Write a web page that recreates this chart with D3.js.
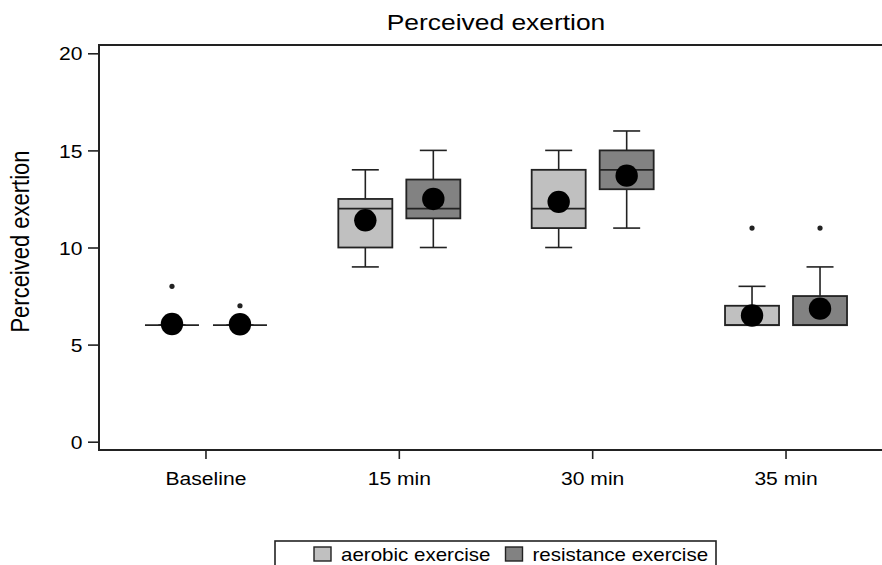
<!DOCTYPE html>
<html>
<head>
<meta charset="utf-8">
<script src="https://cdn.jsdelivr.net/npm/d3@7/dist/d3.min.js"></script>
<style>
  html, body { margin: 0; padding: 0; background: #fff; }
  svg { display: block; }
  text { font-family: "Liberation Sans", Arial, sans-serif; fill: #000; }
</style>
</head>
<body>
<script>
// ---- data ----
const categories = ["Baseline", "15 min", "30 min", "35 min"];
const groups = ["aerobic exercise", "resistance exercise"];
const groupColors = ["#c0c0c0", "#828282"];
const yTicks = [0, 5, 10, 15, 20];

const aerobicLow      = [6, 9, 10, 6];
const aerobicQ1       = [6, 10, 11, 6];
const aerobicMedian   = [6, 12, 12, 6];
const aerobicQ3       = [6, 12.5, 14, 7];
const aerobicHigh     = [6, 14, 15, 8];
const aerobicMean     = [6.06, 11.4, 12.35, 6.5];
const aerobicOutliers = [[8], [], [], [11]];

const resistanceLow      = [6, 10, 11, 6];
const resistanceQ1       = [6, 11.5, 13, 6];
const resistanceMedian   = [6, 12, 14, 6];
const resistanceQ3       = [6, 13.5, 15, 7.5];
const resistanceHigh     = [6, 15, 16, 9];
const resistanceMean     = [6.05, 12.5, 13.7, 6.85];
const resistanceOutliers = [[7], [], [], [11]];

// ---- build records ----
const series = [
  {low: aerobicLow, q1: aerobicQ1, med: aerobicMedian, q3: aerobicQ3, high: aerobicHigh, mean: aerobicMean, out: aerobicOutliers},
  {low: resistanceLow, q1: resistanceQ1, med: resistanceMedian, q3: resistanceQ3, high: resistanceHigh, mean: resistanceMean, out: resistanceOutliers}
];
const records = [];
categories.forEach((c, i) => {
  groups.forEach((g, j) => {
    const s = series[j];
    records.push({cat: c, group: g, gi: j, low: s.low[i], q1: s.q1[i], med: s.med[i], q3: s.q3[i], high: s.high[i], mean: s.mean[i], out: s.out[i]});
  });
});

const W = 882, H = 565;
const svg = d3.select("body").append("svg").attr("width", W).attr("height", H);

const plotLeft = 99, plotRight = 884, plotTop = 45, plotBottom = 450;
const SX = 1.14; // horizontal stretch of text in reference

const x = d3.scaleBand().domain(categories).range([109.3, 882.7]).padding(0);
const xs = d3.scaleBand().domain(groups).range([-61, 61]).paddingInner(14 / 68).paddingOuter(0);
const y = d3.scaleLinear().domain([0, 20]).range([441.7, 53.3]);

// frame
svg.append("path")
  .attr("d", `M${plotRight},${plotTop}H${plotLeft}V${plotBottom}H${plotRight}`)
  .attr("fill", "none").attr("stroke", "#222").attr("stroke-width", 2);

// y axis
const yAxis = d3.axisLeft(y).tickValues(yTicks).tickSize(11).tickPadding(5).tickFormat(d3.format("d"));
const gy = svg.append("g").attr("transform", `translate(${plotLeft},0)`).call(yAxis);
gy.select(".domain").remove();
gy.selectAll(".tick line").attr("stroke", "#222").attr("stroke-width", 1.6);
gy.selectAll(".tick text")
  .attr("x", 0).attr("dy", "0.36em")
  .attr("transform", `translate(-16.5,0) scale(${SX},1)`)
  .attr("font-size", 18.5).attr("font-family", "Liberation Sans, Arial, sans-serif").attr("fill", "#000");

// x axis
const xAxis = d3.axisBottom(x).tickSize(9).tickPadding(10);
const gx = svg.append("g").attr("transform", `translate(0,${plotBottom})`).call(xAxis);
gx.select(".domain").remove();
gx.selectAll(".tick line").attr("stroke", "#222").attr("stroke-width", 1.6);
gx.selectAll(".tick text")
  .attr("y", 0).attr("dy", 0)
  .attr("transform", `translate(0,35) scale(${SX},1)`)
  .attr("font-size", 18.5).attr("font-family", "Liberation Sans, Arial, sans-serif").attr("fill", "#000");

// boxes
const cx = d => x(d.cat) + x.bandwidth() / 2 + xs(d.group) + xs.bandwidth() / 2;
const bw = xs.bandwidth();
const capW = bw / 2;
const stroke = "#222";

const gBox = svg.append("g");
records.forEach(d => {
  const c = cx(d);
  const g = gBox.append("g");
  g.append("line").attr("x1", c).attr("x2", c).attr("y1", y(d.q3)).attr("y2", y(d.high)).attr("stroke", stroke).attr("stroke-width", 1.6);
  g.append("line").attr("x1", c).attr("x2", c).attr("y1", y(d.q1)).attr("y2", y(d.low)).attr("stroke", stroke).attr("stroke-width", 1.6);
  g.append("line").attr("x1", c - capW / 2).attr("x2", c + capW / 2).attr("y1", y(d.high)).attr("y2", y(d.high)).attr("stroke", stroke).attr("stroke-width", 1.6);
  g.append("line").attr("x1", c - capW / 2).attr("x2", c + capW / 2).attr("y1", y(d.low)).attr("y2", y(d.low)).attr("stroke", stroke).attr("stroke-width", 1.6);
  g.append("rect").attr("x", c - bw / 2).attr("width", bw)
    .attr("y", y(d.q3)).attr("height", Math.max(0, y(d.q1) - y(d.q3)))
    .attr("fill", groupColors[d.gi]).attr("stroke", stroke).attr("stroke-width", 1.8);
  g.append("line").attr("x1", c - bw / 2).attr("x2", c + bw / 2).attr("y1", y(d.med)).attr("y2", y(d.med)).attr("stroke", stroke).attr("stroke-width", 1.8);
  d.out.forEach(v => {
    g.append("circle").attr("cx", c).attr("cy", y(v)).attr("r", 2.6).attr("fill", "#222");
  });
});
// means on top
svg.append("g").selectAll("circle").data(records).join("circle")
  .attr("cx", d => cx(d)).attr("cy", d => y(d.mean)).attr("r", 11.2).attr("fill", "#000");

// title
svg.append("text").attr("transform", `translate(496,30) scale(1.2,1)`).attr("text-anchor", "middle").attr("font-size", 22).text("Perceived exertion");

// y label
svg.append("text").attr("transform", `translate(29,241.5) scale(1.13,1) rotate(-90)`).attr("text-anchor", "middle").attr("font-size", 22).text("Perceived exertion");

// legend
const lg = svg.append("g");
lg.append("rect").attr("x", 275).attr("y", 541).attr("width", 441).attr("height", 40).attr("fill", "#fff").attr("stroke", "#222").attr("stroke-width", 1.6);
const legX = [314, 505.5];
groups.forEach((g, j) => {
  lg.append("rect").attr("x", legX[j]).attr("y", 547).attr("width", 17).attr("height", 14)
    .attr("fill", groupColors[j]).attr("stroke", "#222").attr("stroke-width", 1.4);
  lg.append("text").attr("transform", `translate(${legX[j] + 27},560.5) scale(1.14,1)`).attr("font-size", 18).text(g);
});
</script>
</body>
</html>
